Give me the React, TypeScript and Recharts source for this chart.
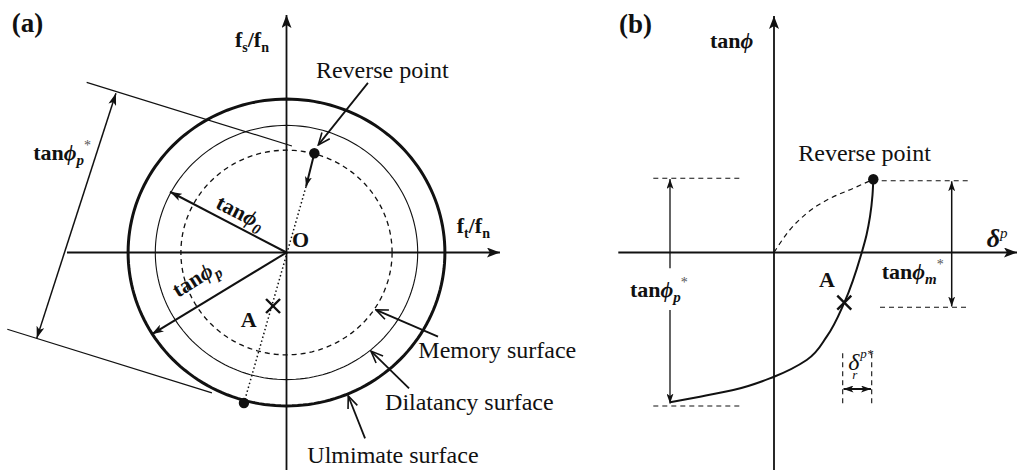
import React from "react";
import { ComposedChart, Line, Scatter, XAxis, YAxis } from "recharts";

type Pt = { x: number; y: number };

const ink = "#111";
const serif = "'Liberation Serif', 'Times New Roman', serif";

// ---------- (a) surfaces in the fs/fn - ft/fn plane ----------
// radii of ultimate, dilatancy and memory surfaces (ultimate ~ 1)
const surfaceRadii = [0.99, 0.82, 0.66];
const surfaceNames = ["Ulmimate surface", "Dilatancy surface", "Memory surface"];

const reversePointA: Pt = { x: 0.174, y: 0.64 };
const ultimateContact: Pt = { x: -0.266, y: -0.971 };
const stateA: Pt = { x: -0.084, y: -0.345 };

const axisAx: Pt[] = [{ x: -1.372, y: 0 }, { x: 1.334, y: 0 }];
const axisAy: Pt[] = [{ x: 0, y: -1.45 }, { x: 0, y: 1.532 }];
const tangentTop: Pt[] = [{ x: -1.249, y: 1.098 }, { x: 0.034, y: 0.687 }];
const tangentBottom: Pt[] = [{ x: -1.745, y: -0.495 }, { x: -0.466, y: -0.906 }];
const peakSpan: Pt[] = [{ x: -1.066, y: 1.027 }, { x: -1.561, y: -0.554 }];
const radiusPhi0: Pt[] = [{ x: 0, y: 0 }, { x: -0.728, y: 0.392 }];
const radiusPhiP: Pt[] = [{ x: 0, y: 0 }, { x: -0.8425, y: -0.528 }];
const reverseStep: Pt[] = [reversePointA, { x: 0.122, y: 0.425 }];
const reversePath: Pt[] = [{ x: 0.122, y: 0.425 }, ultimateContact];
const pointersA: Pt[][] = [
  [{ x: 0.509, y: 1.094 }, { x: 0.199, y: 0.694 }],
  [{ x: 0.947, y: -0.543 }, { x: 0.559, y: -0.37 }],
  [{ x: 0.766, y: -0.876 }, { x: 0.528, y: -0.636 }],
  [{ x: 0.491, y: -1.199 }, { x: 0.386, y: -0.926 }],
];

const labelsA = [
  { id: "title-a", x: -1.7175, y: 1.4226 },
  { id: "fsfn", x: -0.322, y: 1.326 },
  { id: "reverse", x: 0.184, y: 1.126 },
  { id: "tanPstar-a", x: -1.583, y: 0.597 },
  { id: "tan0", x: -0.45, y: 0.29 },
  { id: "tanP", x: -0.678, y: -0.294 },
  { id: "O", x: 0.034, y: 0.035 },
  { id: "ftfn", x: 1.064, y: 0.126 },
  { id: "A", x: -0.286, y: -0.479 },
  { id: "surf2", x: 0.824, y: -0.683 },
  { id: "surf1", x: 0.616, y: -1.016 },
  { id: "surf0", x: 0.13, y: -1.36 },
];

// ---------- (b) tanφ vs plastic displacement δp ----------
const reversePointB: Pt = { x: 0.993, y: 0.732 };
const stateB: Pt = { x: 0.703, y: -0.502 };
// origin -> reverse point (dashed)
const loadingCurve: Pt[] = [
  { x: 0, y: 0 }, { x: 0.143, y: 0.208 }, { x: 0.327, y: 0.392 },
  { x: 0.543, y: 0.532 }, { x: 0.793, y: 0.642 }, { x: 0.993, y: 0.732 },
];
// from the lower end (peak*) up to the reverse point (solid)
const reloadCurve: Pt[] = [
  { x: -1.04, y: -1.498 }, { x: -0.74, y: -1.442 }, { x: -0.407, y: -1.375 },
  { x: 0, y: -1.242 }, { x: 0.327, y: -1.075 }, { x: 0.527, y: -0.842 },
  { x: 0.703, y: -0.502 }, { x: 0.877, y: -0.002 }, { x: 0.925, y: 0.175 },
  { x: 0.96, y: 0.358 }, { x: 0.985, y: 0.575 }, { x: 0.993, y: 0.732 },
];
const axisBx: Pt[] = [{ x: -1.557, y: 0 }, { x: 2.43, y: 0 }];
const axisBy: Pt[] = [{ x: 0, y: -2.3 }, { x: 0, y: 2.365 }];
const guidesB: Pt[][] = [
  [{ x: -1.207, y: 0.742 }, { x: -0.323, y: 0.742 }],
  [{ x: -1.207, y: -1.535 }, { x: -0.34, y: -1.535 }],
  [{ x: 1.077, y: 0.718 }, { x: 1.96, y: 0.718 }],
  [{ x: 1.06, y: -0.548 }, { x: 1.93, y: -0.548 }],
  [{ x: 0.687, y: -1.008 }, { x: 0.687, y: -1.508 }],
  [{ x: 0.977, y: -1.008 }, { x: 0.977, y: -1.508 }],
];
const peakUp: Pt[] = [{ x: -1.04, y: -0.158 }, { x: -1.04, y: 0.735 }];
const peakDown: Pt[] = [{ x: -1.04, y: -0.575 }, { x: -1.04, y: -1.51 }];
const memorySpan: Pt[] = [{ x: 1.777, y: 0.712 }, { x: 1.777, y: -0.54 }];
const residualSpan: Pt[] = [{ x: 0.695, y: -1.365 }, { x: 0.97, y: -1.365 }];

const labelsB = [
  { id: "title-b", x: -1.55, y: 2.195 },
  { id: "tanphi", x: -0.64, y: 2.045 },
  { id: "reverse", x: 0.243, y: 0.915 },
  { id: "deltap", x: 2.127, y: 0.055 },
  { id: "tanMstar", x: 1.077, y: -0.265 },
  { id: "tanPstar-b", x: -1.44, y: -0.445 },
  { id: "A", x: 0.45, y: -0.345 },
  { id: "deltar", x: 0.743, y: -1.175 },
];

const circle = (r: number): Pt[] =>
  Array.from({ length: 181 }, (_, i) => {
    const t = (i / 180) * 2 * Math.PI;
    return { x: r * Math.cos(t), y: r * Math.sin(t) };
  });

const PHI = "\u03D5";

const tanLabel = (cx: number, cy: number, sub?: string, star?: boolean, rot?: number) => (
  <text
    x={cx}
    y={cy}
    fontFamily={serif}
    fontSize={22}
    fontWeight="bold"
    fill={ink}
    transform={rot ? `rotate(${rot} ${cx} ${cy})` : undefined}
  >
    tan<tspan fontStyle="italic">{PHI}</tspan>
    {sub && (
      <tspan fontSize={15} dy={5} fontStyle="italic">
        {sub}
      </tspan>
    )}
    {star && (
      <tspan fontSize={14} fontWeight="normal" fill="#555" dy={-15}>
        *
      </tspan>
    )}
  </text>
);

const plain = (cx: number, cy: number, s: string) => (
  <text x={cx} y={cy} fontFamily={serif} fontSize={24} fill={ink}>
    {s}
  </text>
);

const renderLabel = (p: any) => {
  const { cx, cy } = p;
  const id = p.payload?.id;
  switch (id) {
    case "title-a":
    case "title-b":
      return (
        <text x={cx} y={cy} fontFamily={serif} fontSize={27} fontWeight="bold" fill={ink}>
          {id === "title-a" ? "(a)" : "(b)"}
        </text>
      );
    case "fsfn":
    case "ftfn":
      return (
        <text x={cx} y={cy} fontFamily={serif} fontSize={22} fontWeight="bold" fill={ink}>
          f<tspan fontSize={14} dy={5}>{id === "fsfn" ? "s" : "t"}</tspan>
          <tspan dy={-5}>/f</tspan>
          <tspan fontSize={14} dy={5}>n</tspan>
        </text>
      );
    case "reverse":
      return plain(cx, cy, "Reverse point");
    case "surf0":
    case "surf1":
    case "surf2":
      return plain(cx, cy, surfaceNames[Number(id.slice(4))]);
    case "tanPstar-a":
    case "tanPstar-b":
      return tanLabel(cx, cy, "p", true);
    case "tanMstar":
      return tanLabel(cx, cy, "m", true);
    case "tan0":
      return tanLabel(cx, cy, "0", false, 27);
    case "tanP":
      return tanLabel(cx, cy, "p", false, -32);
    case "tanphi":
      return tanLabel(cx, cy);
    case "O":
    case "A":
      return (
        <text x={cx} y={cy} fontFamily={serif} fontSize={22} fontWeight="bold" fill={ink}>
          {id}
        </text>
      );
    case "deltap":
      return (
        <text x={cx} y={cy} fontFamily={serif} fontSize={26} fontWeight="bold" fontStyle="italic" fill={ink}>
          δ
          <tspan fontSize={15} fontWeight="normal" dy={-9}>
            p
          </tspan>
        </text>
      );
    case "deltar":
      return (
        <g fontFamily={serif} fontStyle="italic" fill={ink}>
          <text x={cx} y={cy} fontSize={24}>
            δ
          </text>
          <text x={cx + 4} y={cy + 9} fontSize={13}>
            r
          </text>
          <text x={cx + 12} y={cy - 12} fontSize={13}>
            p*
          </text>
        </g>
      );
    default:
      return <g />;
  }
};

const renderDot = (p: any) => <circle cx={p.cx} cy={p.cy} r={5.2} fill={ink} />;
const renderCross = (p: any) => (
  <g stroke={ink} strokeWidth={2.4}>
    <line x1={p.cx - 7} y1={p.cy - 7} x2={p.cx + 7} y2={p.cy + 7} />
    <line x1={p.cx - 7} y1={p.cy + 7} x2={p.cx + 7} y2={p.cy - 7} />
  </g>
);

const seg = (
  key: string,
  data: Pt[],
  opts: { w?: number; dash?: string; end?: string; start?: string; curve?: "linear" | "monotoneX" | "monotoneY" } = {}
) => (
  <Line
    key={key}
    data={data}
    dataKey="y"
    type={opts.curve ?? "linear"}
    stroke={ink}
    strokeWidth={opts.w ?? 1.3}
    strokeDasharray={opts.dash}
    markerEnd={opts.end ? `url(#${opts.end})` : undefined}
    markerStart={opts.start ? `url(#${opts.start})` : undefined}
    dot={false}
    activeDot={false}
    legendType="none"
    isAnimationActive={false}
  />
);

const Markers = () => (
  <svg width={0} height={0} style={{ position: "absolute" }}>
    <defs>
      <marker id="head" viewBox="0 0 12 8" refX={12} refY={4} markerWidth={12} markerHeight={8}
        markerUnits="userSpaceOnUse" orient="auto-start-reverse">
        <path d="M0,0 L12,4 L0,8 L3,4 z" fill={ink} />
      </marker>
      <marker id="headSmall" viewBox="0 0 10 7" refX={10} refY={3.5} markerWidth={10} markerHeight={7}
        markerUnits="userSpaceOnUse" orient="auto-start-reverse">
        <path d="M0,0 L10,3.5 L0,7 L2.5,3.5 z" fill={ink} />
      </marker>
      <marker id="axisHead" viewBox="0 0 13 10" refX={13} refY={5} markerWidth={13} markerHeight={10}
        markerUnits="userSpaceOnUse" orient="auto">
        <path d="M0,0 L13,5 L0,10 L3,5 z" fill={ink} />
      </marker>
      <marker id="open" viewBox="0 0 14 12" refX={13} refY={6} markerWidth={14} markerHeight={12}
        markerUnits="userSpaceOnUse" orient="auto">
        <path d="M1,1 L13,6 L1,11" fill="none" stroke={ink} strokeWidth={1.6} />
      </marker>
    </defs>
  </svg>
);

const noMargin = { top: 0, right: 0, bottom: 0, left: 0 };

export default function App() {
  return (
    <div style={{ position: "fixed", left: 0, top: 0, width: 1018, height: 470, background: "#fff", overflow: "hidden" }}>
      <Markers />
      <div style={{ position: "absolute", left: 0, top: 0 }}>
        <ComposedChart width={600} height={470} margin={noMargin}>
          <XAxis type="number" dataKey="x" domain={[-286.5 / 160, 313.5 / 160]} allowDataOverflow hide />
          <YAxis type="number" dataKey="y" domain={[-217.5 / 155, 252.5 / 155]} allowDataOverflow hide />
          {seg("ax", axisAx, { w: 1.8, end: "axisHead" })}
          {seg("ay", axisAy, { w: 1.8, end: "axisHead" })}
          {seg("c0", circle(surfaceRadii[0]), { w: 3 })}
          {seg("c1", circle(surfaceRadii[1]), { w: 1.1 })}
          {seg("c2", circle(surfaceRadii[2]), { w: 1.3, dash: "5 4" })}
          {seg("tt", tangentTop, { w: 1.2 })}
          {seg("tb", tangentBottom, { w: 1.2 })}
          {seg("ps", peakSpan, { w: 1.5, start: "head", end: "head" })}
          {seg("r0", radiusPhi0, { w: 2, end: "head" })}
          {seg("rp", radiusPhiP, { w: 2, end: "head" })}
          {seg("rs", reverseStep, { w: 2, end: "headSmall" })}
          {seg("rpath", reversePath, { w: 1.5, dash: "1.5 2.5" })}
          {pointersA.map((p, i) => seg(`pa${i}`, p, { w: 1.8, end: "open" }))}
          <Scatter data={[reversePointA, ultimateContact]} shape={renderDot} isAnimationActive={false} />
          <Scatter data={[stateA]} shape={renderCross} isAnimationActive={false} />
          <Scatter data={labelsA} shape={renderLabel} isAnimationActive={false} />
        </ComposedChart>
      </div>
      <div style={{ position: "absolute", left: 520, top: 0 }}>
        <ComposedChart width={498} height={470} margin={noMargin}>
          <XAxis type="number" dataKey="x" domain={[-2.54, 2.44]} allowDataOverflow hide />
          <YAxis type="number" dataKey="y" domain={[-2.175, 2.525]} allowDataOverflow hide />
          {seg("bx", axisBx, { w: 1.8, end: "axisHead" })}
          {seg("by", axisBy, { w: 1.8, end: "axisHead" })}
          {guidesB.map((g, i) => seg(`g${i}`, g, { w: 1.1, dash: "5 4" }))}
          {seg("load", loadingCurve, { w: 1.2, dash: "5 4", curve: "monotoneX" })}
          {seg("reload", reloadCurve, { w: 2, curve: "monotoneY" })}
          {seg("pu", peakUp, { w: 1.3, end: "headSmall" })}
          {seg("pd", peakDown, { w: 1.3, end: "headSmall" })}
          {seg("ms", memorySpan, { w: 1.5, start: "headSmall", end: "headSmall" })}
          {seg("rs", residualSpan, { w: 2, start: "headSmall", end: "headSmall" })}
          <Scatter data={[reversePointB]} shape={renderDot} isAnimationActive={false} />
          <Scatter data={[stateB]} shape={renderCross} isAnimationActive={false} />
          <Scatter data={labelsB} shape={renderLabel} isAnimationActive={false} />
        </ComposedChart>
      </div>
    </div>
  );
}
